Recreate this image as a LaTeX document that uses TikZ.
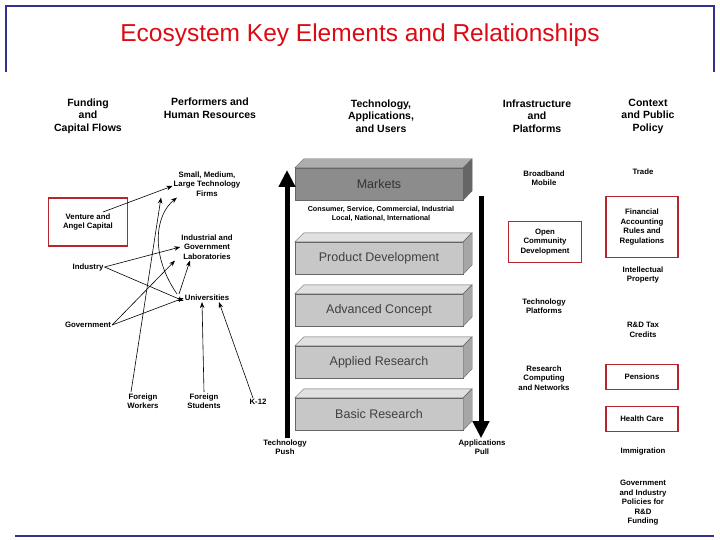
\documentclass[tikz,border=0pt]{standalone}
\usepackage{fontspec}
\setmainfont{Liberation Sans}
\usetikzlibrary{arrows.meta}
\definecolor{frameblue}{RGB}{50,50,140}
\definecolor{boxred}{RGB}{180,40,45}
\definecolor{titlered}{RGB}{220,10,20}
\tikzset{
  lbl/.style={font=\fontsize{7.8}{9.5}\selectfont\bfseries, align=center, inner sep=1pt},
  head/.style={font=\fontsize{10.5}{12.5}\selectfont\bfseries, align=center, inner sep=1pt},
  redbox/.style={draw=boxred, line width=1.3pt},
  flow/.style={-{Stealth[length=6pt,width=4.5pt]}, line width=0.6pt},
  slab/.style={draw=black!60, fill=black!22, minimum width=168pt, minimum height=32pt,
    font=\fontsize{12.5}{14}\selectfont, text=black!75, inner sep=0pt},
  push/.style={line width=5pt, -{Triangle[length=17pt,width=16pt]}}
}
\newcommand{\slabtop}[3]{%
  \filldraw[draw=black!60, fill=#2] (#1.north west) -- ++(9,-9) -- ++(168,0) -- (#1.north east) -- cycle;
  \filldraw[draw=black!60, fill=#3] (#1.north east) -- ++(9,-9) -- ++(0,32) -- (#1.south east) -- cycle;}
\begin{document}
\begin{tikzpicture}[x=1pt,y=-1pt]
    \useasboundingbox (0,0) rectangle (720,540);
    % title frame
    \draw[frameblue, line width=2.5pt] (6,72) -- (6,6) -- (714,6) -- (714,72);
    \draw[frameblue, line width=1.5pt] (15,536) -- (714,536);
    \node[font=\fontsize{24.5}{28}\selectfont, text=titlered] (title) at (360,35) {Ecosystem Key Elements and Relationships};

    % column heads
    \node[head] (h1) at (88,116) {Funding\\and\\Capital Flows};
    \node[head] (h2) at (210,108) {Performers and\\Human Resources};
    \node[head] (h3) at (381,116) {Technology,\\Applications,\\and Users};
    \node[head] (h4) at (537,116) {Infrastructure\\and\\Platforms};
    \node[head] (h5) at (648,116) {Context\\and Public\\Policy};

    % funding and performers
    \node[lbl] (firm) at (207,184) {Small, Medium,\\Large Technology\\Firms};
    \node[lbl, redbox, minimum width=79pt, minimum height=48pt] (vc) at (88,222) {Venture and\\Angel Capital};
    \node[lbl] (lab) at (207,247) {Industrial and\\Government\\Laboratories};
    \node[lbl] (ind) at (88,267) {Industry};
    \node[lbl] (uni) at (207,298) {Universities};
    \node[lbl] (gov) at (88,325) {Government};
    \node[lbl] (fw) at (143,401) {Foreign\\Workers};
    \node[lbl] (fs) at (204,401) {Foreign\\Students};
    \node[lbl] (k12) at (258,402) {K-12};

    \draw[flow] (vc.center) ++(15,-10) -- ([yshift=-2pt]firm.west);
    \draw[flow] (fw.north) ++(-12,0) -- ([xshift=-46pt]firm.south);
    \draw[flow] ([xshift=-30pt]uni.north) .. controls (150,255) and (155,215) .. ([xshift=-30pt]firm.south);
    \draw[flow] (ind.east) -- (lab.west);
    \draw[flow] (ind.east) -- ([yshift=-3pt]uni.west);
    \draw[flow] (gov.east) -- ([xshift=-32pt]lab.south);
    \draw[flow] (gov.east) -- (uni.west);
    \draw[flow] ([xshift=-28pt]uni.north) -- ([xshift=-17pt]lab.south);
    \draw[flow] (fs.north) -- ([xshift=-5pt]uni.south);
    \draw[flow] (k12.north) ++(-5,0) -- ([xshift=12pt]uni.south);

    % technology stack
    \node[slab, fill=black!45, text=black!80] (mk) at (379,184) {Markets};
    \slabtop{mk}{black!32}{black!60}
    \node[lbl, font=\fontsize{7.2}{9}\selectfont\bfseries] (cons) at (381,214) {Consumer, Service, Commercial, Industrial\\Local, National, International};
    \node[slab] (pd) at (379,258) {Product Development};
    \slabtop{pd}{black!12}{black!35}
    \node[slab] (ac) at (379,310) {Advanced Concept};
    \slabtop{ac}{black!12}{black!35}
    \node[slab] (ar) at (379,362) {Applied Research};
    \slabtop{ar}{black!12}{black!35}
    \node[slab] (br) at (379,414) {Basic Research};
    \slabtop{br}{black!12}{black!35}

    \node[lbl] (tp) at (285,447) {Technology\\Push};
    \node[lbl] (ap) at (482,447) {Applications\\Pull};
    \coordinate (tptip) at (287,170);
    \coordinate (apstart) at (481,196);
    \draw[push] ([xshift=2pt]tp.north) -- (tptip);
    \draw[push] (apstart) -- ([xshift=-1pt]ap.north);

    % infrastructure
    \node[lbl] (bb) at (544,178) {Broadband\\Mobile};
    \node[lbl, redbox, minimum width=73pt, minimum height=41pt] (ocd) at (545,242) {Open\\Community\\Development};
    \node[lbl] (tpl) at (544,306) {Technology\\Platforms};
    \node[lbl] (rcn) at (544,378) {Research\\Computing\\and Networks};

    % context and policy
    \node[lbl] (trade) at (643,172) {Trade};
    \node[lbl, redbox, minimum width=72pt, minimum height=61pt] (fin) at (642,227) {Financial\\Accounting\\Rules and\\Regulations};
    \node[lbl] (ip) at (643,275) {Intellectual\\Property};
    \node[lbl] (rd) at (643,330) {R\&D Tax\\Credits};
    \node[lbl, redbox, minimum width=72pt, minimum height=25pt] (pen) at (642,377) {Pensions};
    \node[lbl, redbox, minimum width=72pt, minimum height=25pt] (hc) at (642,419) {Health Care};
    \node[lbl] (imm) at (643,451) {Immigration};
    \node[lbl] (pol) at (643,503) {Government\\and Industry\\Policies for\\R\&D\\Funding};
\end{tikzpicture}
\end{document}
